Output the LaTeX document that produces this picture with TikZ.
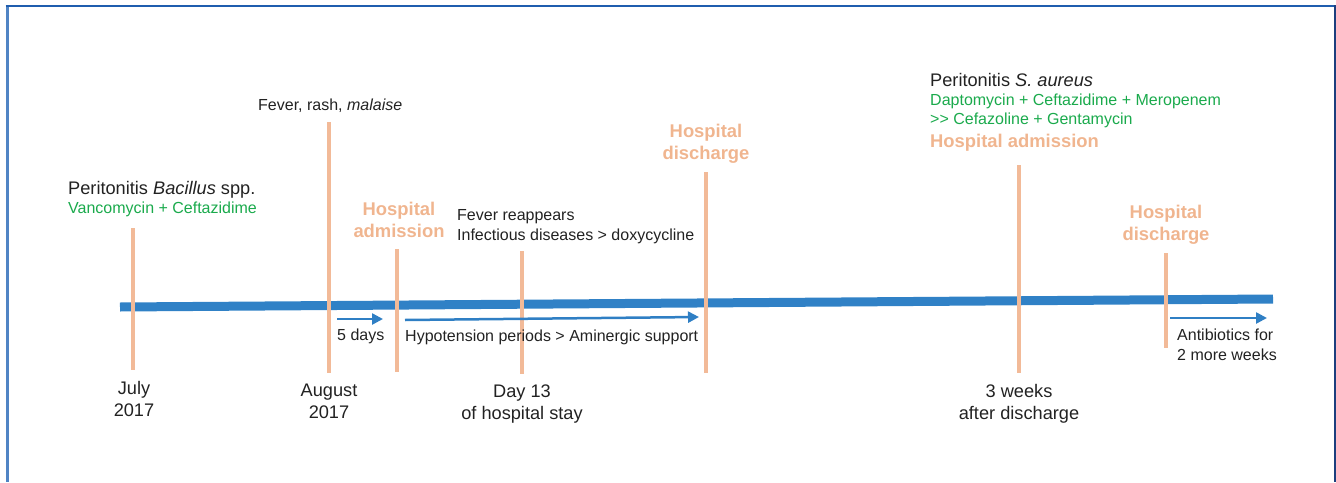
\documentclass[tikz,border=0pt]{standalone}
\usepackage{fontspec}
\setmainfont{Liberation Sans}
\usetikzlibrary{arrows.meta}
\definecolor{tlblue}{HTML}{3081C6}
\definecolor{arblue}{HTML}{2F7FC4}
\definecolor{mark}{HTML}{F2BA98}
\definecolor{orangetxt}{HTML}{F0B58F}
\definecolor{greentxt}{HTML}{1AAA4C}
\definecolor{txt}{HTML}{222222}
\definecolor{frameL}{HTML}{5084C4}
\definecolor{frameT}{HTML}{1F5DAE}
\definecolor{frameR}{HTML}{1C3F7E}
\tikzset{
  big/.style={font=\fontsize{18.2}{21.5}\selectfont, text=txt, inner sep=0pt},
  small/.style={font=\fontsize{16}{19.5}\selectfont, text=txt, inner sep=0pt},
  green/.style={font=\fontsize{16}{19}\selectfont, text=greentxt, inner sep=0pt},
  hosp/.style={font=\fontsize{18.4}{22}\selectfont\bfseries, text=orangetxt, inner sep=0pt},
  markline/.style={draw=mark, line width=4pt},
  timeline/.style={draw=tlblue, line width=9pt},
  durarrow/.style={draw=arblue, line width=2.5pt, -{Triangle[length=11pt,width=11pt]}},
}
\begin{document}
\begin{tikzpicture}[x=1pt,y=-1pt]
\useasboundingbox (0,0) rectangle (1336,482);
% frame
\draw[frameL, line width=3pt] (7,6) -- (7,482);
\draw[frameT, line width=2.5pt] (5.5,6) -- (1335,6);
\draw[frameR, line width=2pt] (1335,5) -- (1335,482);
% timeline
\coordinate (tlA) at (120,307);
\coordinate (tlB) at (1273,299);
\draw[timeline] (tlA) -- (tlB);
% mark lines
\coordinate (m1t) at (133,228); \coordinate (m1b) at (133,370);
\coordinate (m2t) at (329,122); \coordinate (m2b) at (329,373);
\coordinate (m3t) at (397,249); \coordinate (m3b) at (397,372);
\coordinate (m4t) at (522,251); \coordinate (m4b) at (522,374);
\coordinate (m5t) at (706,172); \coordinate (m5b) at (706,373);
\coordinate (m6t) at (1019,165); \coordinate (m6b) at (1019,373);
\coordinate (m7t) at (1166,253); \coordinate (m7b) at (1166,348);
\foreach \i in {1,...,7} {\draw[markline] (m\i t) -- (m\i b);}
% arrows
\coordinate (a1s) at (337,319); \coordinate (a1e) at (383,319);
\coordinate (a2s) at (405,320); \coordinate (a2e) at (699,317);
\coordinate (a3s) at (1170,318); \coordinate (a3e) at (1267,318);
\draw[durarrow] (a1s) -- (a1e);
\draw[durarrow] (a2s) -- (a2e);
\draw[durarrow] (a3s) -- (a3e);
% texts above (multi-line nodes anchored at last baseline)
\node[big, anchor=base west] (per1) at (68,194) {Peritonitis \textit{Bacillus} spp.};
\node[green, anchor=base west] (ab1) at (68,213) {Vancomycin + Ceftazidime};
\node[small, anchor=base west] (fever1) at (258,110) {Fever, rash, \textit{malaise}};
\node[hosp, anchor=base, align=center] (adm1) at (399,237) {Hospital\\admission};
\node[small, anchor=base west, align=left] (fever2) at (457,240) {Fever reappears\\Infectious diseases > doxycycline};
\node[hosp, anchor=base, align=center] (dis1) at (706,159) {Hospital\\discharge};
\node[big, anchor=base west] (per2) at (930,86) {Peritonitis \textit{S. aureus}};
\node[green, anchor=base west, align=left] (ab2) at (930,124) {Daptomycin + Ceftazidime + Meropenem\\{>}{>} Cefazoline + Gentamycin};
\node[hosp, anchor=base west] (adm2) at (930,147) {Hospital admission};
\node[hosp, anchor=base, align=center] (dis2) at (1166,240) {Hospital\\discharge};
% texts below
\node[small, anchor=base west] (days5) at (337,340) {5 days};
\node[small, anchor=base west] (hypo) at (405,341) {Hypotension periods > Aminergic support};
\node[small, anchor=base west, align=left] (abx) at (1177,360) {Antibiotics for\\2 more weeks};
\node[big, anchor=base, align=center] (d1) at (134,416) {July\\2017};
\node[big, anchor=base, align=center] (d2) at (329,418) {August\\2017};
\node[big, anchor=base, align=center] (d3) at (522,419) {Day 13\\of hospital stay};
\node[big, anchor=base, align=center] (d4) at (1019,419) {3 weeks\\after discharge};
\end{tikzpicture}
\end{document}
